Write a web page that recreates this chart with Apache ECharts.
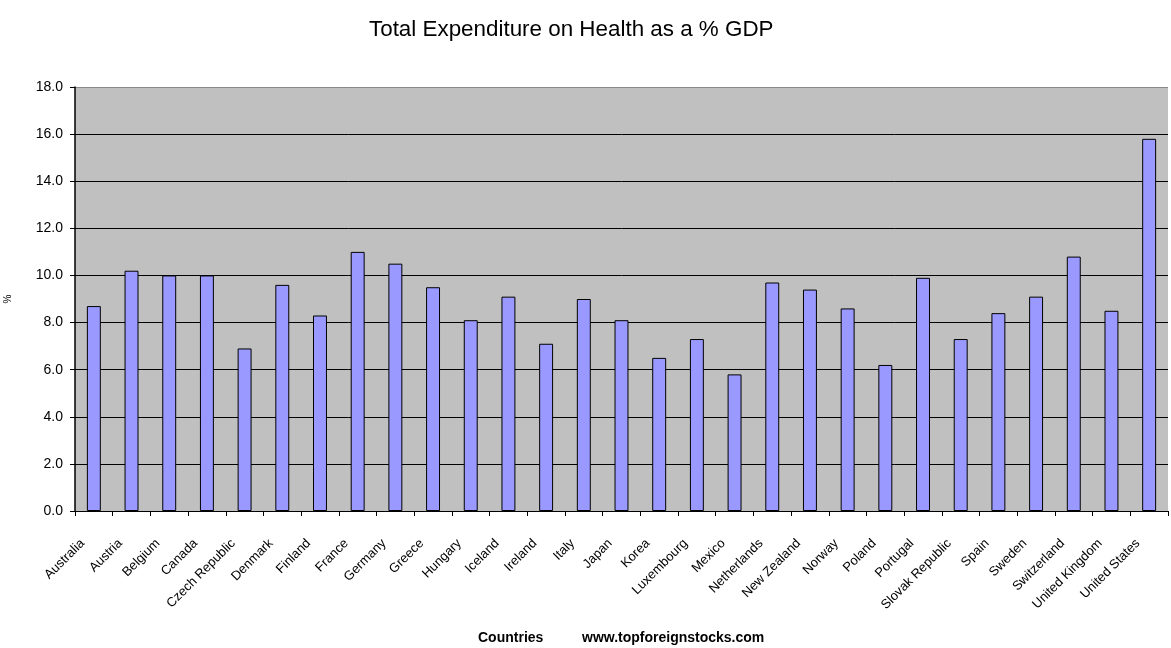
<!DOCTYPE html>
<html>
<head>
<meta charset="utf-8">
<script src="https://cdn.jsdelivr.net/npm/echarts@6/dist/echarts.min.js"></script>
<style>
html,body{margin:0;padding:0;background:#fff;}
#chart{width:1171px;height:648px;}
</style>
</head>
<body>
<div id="chart"></div>
<script>
const countries = ["Australia","Austria","Belgium","Canada","Czech Republic","Denmark","Finland","France","Germany","Greece","Hungary","Iceland","Ireland","Italy","Japan","Korea","Luxembourg","Mexico","Netherlands","New Zealand","Norway","Poland","Portugal","Slovak Republic","Spain","Sweden","Switzerland","United Kingdom","United States"];
const healthPct = [8.7,10.2,10.0,10.0,6.9,9.6,8.3,11.0,10.5,9.5,8.1,9.1,7.1,9.0,8.1,6.5,7.3,5.8,9.7,9.4,8.6,6.2,9.9,7.3,8.4,9.1,10.8,8.5,15.8];
const yTicks = {min: 0, max: 18, interval: 2};

const chart = echarts.init(document.getElementById('chart'), null, {renderer: 'canvas'});
const font = 'Arial, "Liberation Sans", sans-serif';
chart.setOption({
  animation: false,
  backgroundColor: '#ffffff',
  title: [
    {text: 'Total Expenditure on Health as a % GDP', left: 364, top: 14,
     textStyle: {fontFamily: font, fontSize: 22.4, fontWeight: 'normal', color: '#000'}}
  ],
  graphic: [
    {type: 'text', left: 478, top: 631, style: {text: 'Countries', font: 'bold 14px ' + font, fill: '#000'}},
    {type: 'text', left: 582, top: 631, style: {text: 'www.topforeignstocks.com', font: 'bold 14px ' + font, fill: '#000'}}
  ],
  grid: {left: 75, right: 3, top: 87, bottom: 137, show: true, backgroundColor: '#c0c0c0', borderWidth: 0,
         containLabel: false, outerBoundsMode: 'none'},
  xAxis: {
    type: 'category',
    data: countries,
    axisLine: {lineStyle: {color: '#000', width: 1}},
    axisTick: {show: true, length: 5, lineStyle: {color: '#000'}},
    axisLabel: {rotate: 45, fontFamily: font, fontSize: 13, color: '#000', margin: 19, interval: 0, padding: [0, 16, 0, 0]}
  },
  yAxis: {
    type: 'value',
    min: yTicks.min, max: yTicks.max, interval: yTicks.interval,
    name: '%', nameLocation: 'middle', nameGap: 62, nameRotate: 90,
    nameTextStyle: {fontFamily: font, fontSize: 10, color: '#000'},
    axisLine: {show: true, lineStyle: {color: '#000', width: 1.5}},
    axisTick: {show: true, length: 5, lineStyle: {color: '#000'}},
    axisLabel: {fontFamily: font, fontSize: 14, color: '#000', margin: 12, formatter: v => v.toFixed(1)},
    splitLine: {show: true, lineStyle: {color: ['#000','#000','#000','#000','#000','#000','#000','#000','#000','#888'], width: 1}}
  },
  series: [{
    type: 'bar',
    data: healthPct,
    barWidth: '37%',
    itemStyle: {color: '#9999ff', borderColor: '#000', borderWidth: 1}
  }]
});
</script>
</body>
</html>
